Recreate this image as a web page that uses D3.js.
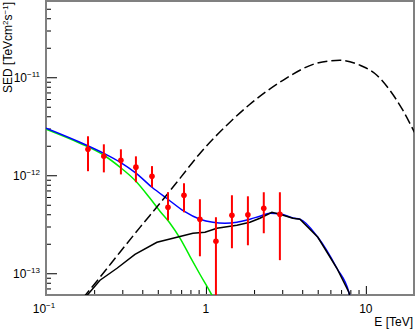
<!DOCTYPE html>
<html>
<head>
  <meta charset="UTF-8">
  <title>SED</title>
  <script src="https://cdn.jsdelivr.net/npm/d3@7"></script>
  <style>
    body { margin: 0; background: #fff; }
    text { font-family: "Liberation Sans", Arial, sans-serif; fill: #000; }
  </style>
</head>
<body>
<script>
// measured points
var ptE   = [0.183, 0.230, 0.294, 0.365, 0.460, 0.579, 0.729, 0.917, 1.155, 1.454, 1.83, 2.30, 2.90];
var ptSED = [1.84e-12, 1.56e-12, 1.42e-12, 1.21e-12, 9.77e-13, 4.71e-13, 6.25e-13, 3.56e-13, 2.12e-13, 3.91e-13, 3.95e-13, 4.61e-13, 4.00e-13];
var ptHi  = [2.50e-12, 2.07e-12, 1.84e-12, 1.56e-12, 1.24e-12, 6.71e-13, 8.29e-13, 5.69e-13, 3.73e-13, 6.25e-13, 6.10e-13, 6.71e-13, 6.71e-13];
var ptLo  = [1.10e-12, 1.07e-12, 1.02e-12, 8.49e-13, 7.55e-13, 3.47e-13, 4.19e-13, 1.49e-13, 4.0e-14, 1.80e-13, 1.93e-13, 2.56e-13, 1.36e-13];

// green component
var greenE   = [0.1, 0.163, 0.230, 0.290, 0.360, 0.447, 0.516, 0.596, 0.688, 0.794, 0.917, 1.09, 1.138];
var greenSED = [2.95e-12, 2.12e-12, 1.60e-12, 1.21e-12, 8.89e-13, 5.82e-13, 4.30e-13, 3.24e-13, 2.28e-13, 1.49e-13, 9.77e-14, 5.97e-14, 5.18e-14];

// blue (total)
var blueE   = [0.1, 0.163, 0.230, 0.290, 0.365, 0.460, 0.579, 0.729, 0.917, 1.106, 1.314, 1.562, 1.884, 2.175, 2.512, 2.90, 3.50, 3.87, 5.01, 6.59, 7.83, 8.06];
var blueSED = [3.02e-12, 2.17e-12, 1.67e-12, 1.36e-12, 1.05e-12, 7.55e-13, 5.69e-13, 4.30e-13, 3.56e-13, 3.31e-13, 3.24e-13, 3.31e-13, 3.56e-13, 3.82e-13, 4.09e-13, 4.05e-13, 3.66e-13, 3.57e-13, 2.33e-13, 1.125e-13, 6.4e-14, 5.3e-14];

// black solid component
var blackE   = [0.170, 0.2176, 0.278, 0.360, 0.494, 0.659, 0.829, 0.986, 1.171, 1.562, 1.884, 2.175, 2.585, 2.90, 3.50, 3.87, 5.01, 6.59, 7.83, 8.06];
var blackSED = [5.3e-14, 8.49e-14, 1.125e-13, 1.56e-13, 2.07e-13, 2.33e-13, 2.56e-13, 2.62e-13, 2.88e-13, 3.09e-13, 3.31e-13, 3.64e-13, 4.19e-13, 4.00e-13, 3.64e-13, 3.56e-13, 2.33e-13, 1.125e-13, 6.4e-14, 5.3e-14];

// black dashed component
var dashE   = [0.170, 0.2176, 0.290, 0.387, 0.516, 0.688, 0.917, 1.413, 1.884, 3.03, 4.94, 6.88, 9.17, 11.72, 14.13, 17.03, 20.25];
var dashSED = [5.56e-14, 9.1e-14, 1.64e-13, 2.94e-13, 5.18e-13, 9.3e-13, 1.67e-12, 3.48e-12, 5.30e-12, 9.31e-12, 1.39e-11, 1.49e-11, 1.33e-11, 1.05e-11, 7.36e-12, 4.61e-12, 2.69e-12];

var xMajor = [0.1, 1, 10];
var xMinor = [0.2, 0.3, 0.4, 0.5, 0.6, 0.7, 0.8, 0.9, 2, 3, 4, 5, 6, 7, 8, 9];
var xLabels = [["10", "\u22121"], ["1", ""], ["10", ""]];
var yMajor = [1e-13, 1e-12, 1e-11];
var yLabels = [["10", "\u221213"], ["10", "\u221212"], ["10", "\u221211"]];

var W = 415, H = 330;
var L = 46, R = 414, T = 1, B = 295;

var x = d3.scaleLog().domain([0.1, 20]).range([L, R]);
var y = d3.scaleLog().domain([6e-14, 6e-11]).range([B, T]);

var yMinor = [];
[1e-14, 1e-13, 1e-12, 1e-11].forEach(function(d) {
  for (var k = 2; k <= 9; k++) {
    var v = k * d;
    if (v > 6e-14 && v < 6e-11) yMinor.push(v);
  }
});

var svg = d3.select("body").append("svg").attr("width", W).attr("height", H);

svg.append("clipPath").attr("id", "clip")
  .append("rect").attr("x", L).attr("y", T).attr("width", R - L).attr("height", B - T);

// ticks via d3 axes, drawn inward
function tickAxis(axis, tr) {
  var g = svg.append("g").attr("transform", tr).call(axis);
  g.select(".domain").remove();
  g.selectAll("text").remove();
  g.selectAll("line").attr("stroke", "#000").attr("stroke-width", 1);
  return g;
}
tickAxis(d3.axisBottom(x).tickValues(xMajor).tickSize(-9), "translate(0," + B + ")");
tickAxis(d3.axisBottom(x).tickValues(xMinor).tickSize(-5), "translate(0," + B + ")");
tickAxis(d3.axisLeft(y).tickValues(yMajor).tickSize(-11), "translate(" + L + ",0)");
tickAxis(d3.axisLeft(y).tickValues(yMinor).tickSize(-5), "translate(" + L + ",0)");

// frame
svg.append("rect").attr("x", L).attr("y", T).attr("width", R - L).attr("height", B - T)
  .attr("fill", "none").attr("stroke", "#808080").attr("stroke-width", 2);

// tick labels
xMajor.forEach(function(v, i) {
  var t = svg.append("text").attr("x", x(v) - (i === 0 ? 2 : 0)).attr("y", 313)
    .attr("text-anchor", "middle").style("font-size", "12px");
  t.append("tspan").text(xLabels[i][0]);
  if (xLabels[i][1]) t.append("tspan").attr("dy", -5).style("font-size", "8px").text(xLabels[i][1]);
});
yMajor.forEach(function(v, i) {
  var t = svg.append("text").attr("x", 40).attr("y", y(v) + 5)
    .attr("text-anchor", "end").style("font-size", "12px");
  t.append("tspan").text(yLabels[i][0]);
  t.append("tspan").attr("dy", -5).style("font-size", "8px").text(yLabels[i][1]);
});

// axis titles
var yt = svg.append("text").attr("transform", "translate(12,2) rotate(-90)")
  .attr("text-anchor", "end").style("font-size", "12px");
yt.append("tspan").text("SED [TeVcm");
yt.append("tspan").attr("dy", -4).style("font-size", "8px").text("2");
yt.append("tspan").attr("dy", 4).text("s");
yt.append("tspan").attr("dy", -4).style("font-size", "8px").text("\u22121");
yt.append("tspan").attr("dy", 4).text("]");

svg.append("text").attr("x", 413).attr("y", 326).attr("text-anchor", "end")
  .style("font-size", "12px").text("E [TeV]");

// curves
var plot = svg.append("g").attr("clip-path", "url(#clip)");
function zip(a, b) { return a.map(function(d, i) { return [d, b[i]]; }); }
var smooth = d3.line().x(function(d) { return x(d[0]); }).y(function(d) { return y(d[1]); })
  .curve(d3.curveMonotoneX);
var straight = d3.line().x(function(d) { return x(d[0]); }).y(function(d) { return y(d[1]); });

plot.append("path").datum(zip(greenE, greenSED)).attr("d", smooth)
  .attr("fill", "none").attr("stroke", "#00ee00").attr("stroke-width", 1.5);
plot.append("path").datum(zip(blueE, blueSED)).attr("d", smooth)
  .attr("fill", "none").attr("stroke", "#0000ff").attr("stroke-width", 1.5);
plot.append("path").datum(zip(blackE, blackSED)).attr("d", straight)
  .attr("fill", "none").attr("stroke", "#000").attr("stroke-width", 1.5);
plot.append("path").datum(zip(dashE, dashSED)).attr("d", smooth)
  .attr("fill", "none").attr("stroke", "#000").attr("stroke-width", 1.5)
  .attr("stroke-dasharray", "10,4");

// data points with error bars
var pts = ptE.map(function(e, i) { return { e: e, v: ptSED[i], hi: ptHi[i], lo: ptLo[i] }; });
plot.selectAll("line.err").data(pts).enter().append("line")
  .attr("x1", function(d) { return x(d.e); }).attr("x2", function(d) { return x(d.e); })
  .attr("y1", function(d) { return y(d.hi); }).attr("y2", function(d) { return y(d.lo); })
  .attr("stroke", "#ff0000").attr("stroke-width", 2);
plot.selectAll("circle").data(pts).enter().append("circle")
  .attr("cx", function(d) { return x(d.e); }).attr("cy", function(d) { return y(d.v); })
  .attr("r", 2.8).attr("fill", "#ff0000");
</script>
</body>
</html>
